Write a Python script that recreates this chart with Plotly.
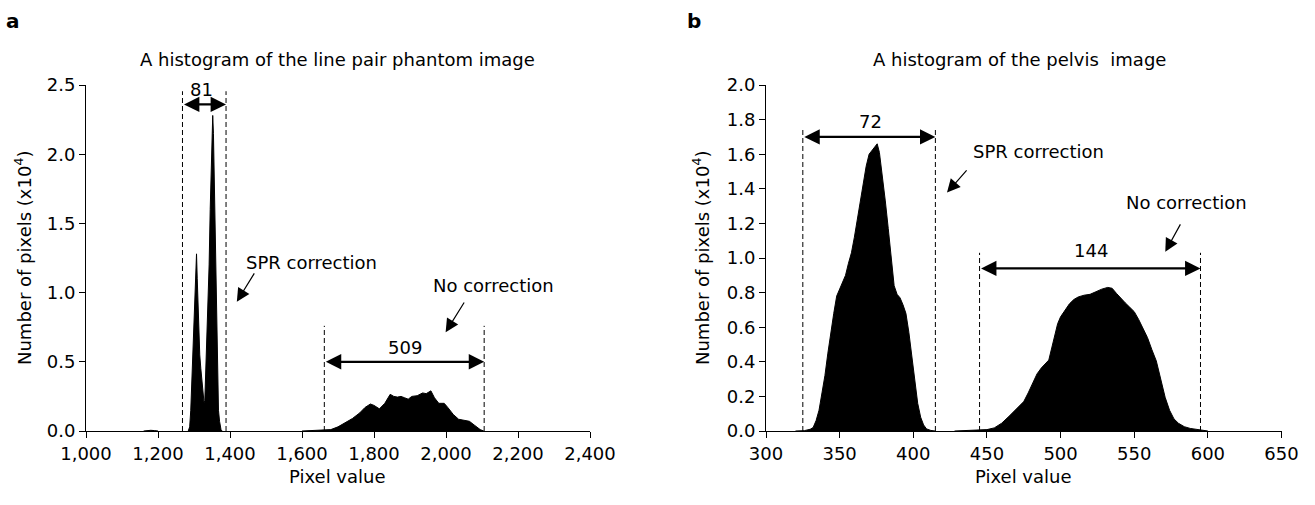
import plotly.graph_objects as go

# ---------------- data ----------------
# Panel a: line pair phantom image
a_tail_x = [1160, 1170, 1180, 1190, 1200]
a_tail_y = [0.0, 0.003, 0.005, 0.003, 0.0]

a_spr_x = [1284, 1288, 1291, 1294, 1297, 1300, 1303, 1305, 1307, 1309, 1311, 1313, 1316,
           1319, 1322, 1325, 1328, 1330, 1333, 1336, 1339, 1342, 1345, 1348, 1350, 1352,
           1354, 1356, 1358, 1360, 1362, 1364, 1366, 1368, 1371, 1375, 1378]
a_spr_y = [0.0, 0.03, 0.15, 0.35, 0.55, 0.8, 1.05, 1.2, 1.28, 1.1, 0.9, 0.7, 0.55,
           0.45, 0.35, 0.26, 0.2, 0.22, 0.45, 0.7, 0.9, 1.2, 1.6, 2.0, 2.2, 2.28,
           2.15, 1.85, 1.5, 1.1, 0.75, 0.5, 0.3, 0.15, 0.07, 0.01, 0.0]

a_nc_x = [1600, 1640, 1660, 1680, 1700, 1720, 1740, 1760, 1775, 1790, 1800, 1815, 1830,
          1845, 1855, 1865, 1875, 1885, 1895, 1905, 1920, 1935, 1945, 1958, 1968, 1980,
          1995, 2005, 2020, 2035, 2050, 2065, 2080, 2095, 2105]
a_nc_y = [0.0, 0.003, 0.005, 0.01, 0.03, 0.06, 0.09, 0.13, 0.17, 0.195, 0.185, 0.16, 0.2,
          0.265, 0.25, 0.245, 0.25, 0.24, 0.23, 0.25, 0.255, 0.275, 0.27, 0.29, 0.24, 0.2,
          0.2, 0.17, 0.12, 0.085, 0.075, 0.07, 0.04, 0.01, 0.0]

# Panel b: pelvis image
b_spr_x = [320, 326, 330, 332, 334, 336, 338, 340, 342, 344, 346, 348, 350, 352, 354, 356,
           358, 360, 362, 364, 366, 368, 370, 372, 374, 375.5, 377, 379, 381, 383, 385,
           387, 389, 391, 393, 395, 397, 399, 401, 403, 405, 407, 409, 412, 415]
b_spr_y = [0.0, 0.002, 0.01, 0.02, 0.06, 0.12, 0.22, 0.32, 0.45, 0.58, 0.68, 0.78, 0.82,
           0.85, 0.9, 0.97, 1.03, 1.12, 1.22, 1.33, 1.43, 1.53, 1.6, 1.62, 1.64, 1.66,
           1.61, 1.48, 1.33, 1.17, 1.02, 0.84, 0.79, 0.77, 0.73, 0.68, 0.57, 0.43, 0.28,
           0.16, 0.08, 0.035, 0.012, 0.003, 0.0]

b_nc_x = [428, 440, 445, 450, 455, 460, 465, 470, 475, 478, 481, 484, 487, 490, 492, 494,
          496, 498, 500, 503, 506, 509, 512, 516, 520, 524, 528, 532, 535, 538, 541, 544,
          547, 550, 553, 556, 559, 562, 565, 568, 571, 574, 577, 580, 584, 588, 594, 600]
b_nc_y = [0.0, 0.002, 0.004, 0.008, 0.018, 0.045, 0.085, 0.125, 0.17, 0.22, 0.28, 0.33,
          0.365, 0.39, 0.41, 0.48, 0.55, 0.62, 0.66, 0.7, 0.735, 0.76, 0.775, 0.785, 0.79,
          0.805, 0.82, 0.83, 0.825, 0.795, 0.765, 0.74, 0.715, 0.69, 0.645, 0.595, 0.54,
          0.47, 0.405, 0.3, 0.195, 0.12, 0.07, 0.045, 0.025, 0.015, 0.006, 0.0]

# window bounds (dashed lines) and their heights
a_spr_bounds = [1268, 1389]
a_spr_top = 2.455
a_nc_bounds = [1662, 2106]
a_nc_top = 0.76
b_spr_bounds = [325, 415]
b_spr_top = 1.75
b_nc_bounds = [445, 595]
b_nc_top = 1.03

a_width_labels = ["81", "509"]
b_width_labels = ["72", "144"]

# Figure kept slightly smaller than the window so the page never scrolls
# (a full-size figure was being rescaled); positions are window pixels.
W, H = 1299, 489
FONT = "DejaVu Sans"
FS = 18

fig = go.Figure()

def area(x, y, xa, ya):
    fig.add_trace(go.Scatter(x=x, y=y, xaxis=xa, yaxis=ya, mode="lines",
                             fill="tozeroy", fillcolor="black",
                             line=dict(color="black", width=1),
                             showlegend=False, hoverinfo="skip"))

area(a_tail_x, a_tail_y, "x", "y")
area(a_spr_x, a_spr_y, "x", "y")
area(a_nc_x, a_nc_y, "x", "y")
area(b_spr_x, b_spr_y, "x2", "y2")
area(b_nc_x, b_nc_y, "x2", "y2")

shapes = []
def vdash(xv, top, xr, yr):
    shapes.append(dict(type="line", xref=xr, yref=yr, x0=xv, x1=xv, y0=0, y1=top,
                       line=dict(color="black", width=1, dash="5px,3px")))

for v in a_spr_bounds:
    vdash(v, a_spr_top, "x", "y")
for v in a_nc_bounds:
    vdash(v, a_nc_top, "x", "y")
for v in b_spr_bounds:
    vdash(v, b_spr_top, "x2", "y2")
for v in b_nc_bounds:
    vdash(v, b_nc_top, "x2", "y2")

ann = []
def dbl_arrow(x0, x1, yv, xr, yr):
    ann.append(dict(x=x1, y=yv, ax=x0, ay=yv, xref=xr, yref=yr, axref=xr, ayref=yr,
                    text="", showarrow=True, arrowhead=2, arrowside="end+start",
                    arrowsize=1.4, arrowwidth=2.2, arrowcolor="black"))

def pointer(xt, yt, xh, yh, xr, yr):
    ann.append(dict(x=xh, y=yh, ax=xt, ay=yt, xref=xr, yref=yr, axref=xr, ayref=yr,
                    text="", showarrow=True, arrowhead=2, arrowsize=2.2,
                    arrowwidth=1.2, arrowcolor="black"))

def label(txt, xv, yv, xr, yr, size=FS):
    ann.append(dict(x=xv, y=yv, xref=xr, yref=yr, text=txt, showarrow=False,
                    font=dict(family=FONT, size=size, color="black"),
                    xanchor="center", yanchor="middle"))

# panel a annotations
dbl_arrow(a_spr_bounds[0], a_spr_bounds[1], 2.36, "x", "y")
label(a_width_labels[0], 1321, 2.47, "x", "y")
dbl_arrow(a_nc_bounds[0], a_nc_bounds[1], 0.5, "x", "y")
label(a_width_labels[1], 1886, 0.6, "x", "y")
label("SPR correction", 1627, 1.217, "x", "y")
pointer(1470, 1.15, 1419, 0.934, "x", "y")
label("No correction", 2133, 1.053, "x", "y")
pointer(2053, 0.939, 1999, 0.713, "x", "y")

# panel b annotations
dbl_arrow(b_spr_bounds[0], b_spr_bounds[1], 1.7, "x2", "y2")
label(b_width_labels[0], 371, 1.79, "x2", "y2")
dbl_arrow(b_nc_bounds[0], b_nc_bounds[1], 0.94, "x2", "y2")
label(b_width_labels[1], 520.8, 1.045, "x2", "y2")
label("SPR correction", 484.8, 1.616, "x2", "y2")
pointer(437.1, 1.515, 422.9, 1.378, "x2", "y2")
label("No correction", 585.3, 1.321, "x2", "y2")
pointer(581.9, 1.203, 571.1, 1.036, "x2", "y2")

def px(xs):
    return xs / W
def py(ys):
    return 1 - ys / H

# titles, axis titles, panel letters (paper coordinates)
def ptext(txt, xp, yp, size, bold=False, angle=0, yanchor="middle"):
    ann.append(dict(x=px(xp), y=py(yp), xref="paper", yref="paper",
                    text=("<b>%s</b>" % txt) if bold else txt, showarrow=False,
                    textangle=angle, xanchor="center", yanchor=yanchor,
                    font=dict(family=FONT, size=size, color="black")))

ptext("a", 13, 21, 20, bold=True)
ptext("b", 694, 21, 20, bold=True)
ptext("A histogram of the line pair phantom image", 338, 60, FS)
ptext("A histogram of the pelvis  image", 1019, 60, FS)
ptext("Pixel value", 338, 489, FS, yanchor="bottom")
ptext("Pixel value", 1023, 489, FS, yanchor="bottom")
ptext("Number of pixels (x10<sup>4</sup>)", 23, 258, FS, angle=-90)
ptext("Number of pixels (x10<sup>4</sup>)", 701, 258, FS, angle=-90)

axis_common = dict(showgrid=False, zeroline=False, showline=True, linecolor="black",
                   linewidth=1, ticks="outside", ticklen=6, tickwidth=1, tickcolor="black",
                   automargin=False,
                   tickfont=dict(family=FONT, size=FS, color="black"), fixedrange=True)

y_dom = [py(431), py(85)]

fig.update_layout(
    width=W, height=H,
    margin=dict(l=0, r=0, t=0, b=0, pad=0),
    paper_bgcolor="white", plot_bgcolor="white",
    font=dict(family=FONT, color="black"),
    xaxis=dict(domain=[px(86), px(590)], range=[1000, 2400], dtick=200, tick0=1000,
               tickformat=",d", anchor="y", **axis_common),
    yaxis=dict(domain=y_dom, range=[0, 2.5], dtick=0.5, tickformat=".1f",
               anchor="x", **axis_common),
    xaxis2=dict(domain=[px(766), px(1281.5)], range=[300, 650], dtick=50, tick0=300,
                anchor="y2", **axis_common),
    yaxis2=dict(domain=y_dom, range=[0, 2.0], dtick=0.2, tickformat=".1f",
                anchor="x2", **axis_common),
    shapes=shapes,
    annotations=ann,
    showlegend=False,
)

fig.write_html("out.html")
